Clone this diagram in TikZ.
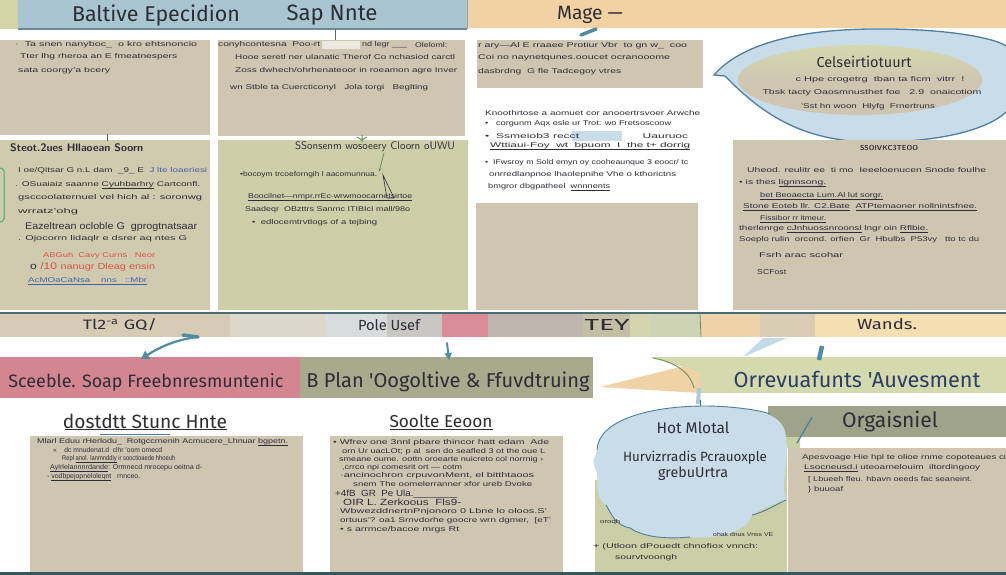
\documentclass[tikz,border=0pt]{standalone}
\usepackage{fontspec}
\usepackage{graphicx}
\setmainfont{Liberation Sans}
\newfontfamily\headfont{Fira Sans}
\usetikzlibrary{arrows.meta}
\definecolor{ink}{HTML}{2E2D36}
\definecolor{tanbox}{HTML}{CFC6B2}
\definecolor{tanD}{HTML}{D0CBAF}
\definecolor{greenE}{HTML}{CDCFA8}
\definecolor{blueband}{HTML}{A8C5D1}
\definecolor{orangeband}{HTML}{F1D2A3}
\definecolor{leftgreen}{HTML}{D1D5A7}
\definecolor{pinkban}{HTML}{D3868F}
\definecolor{sage}{HTML}{A8AA8E}
\definecolor{darksage}{HTML}{9EA38A}
\definecolor{lightgreen}{HTML}{D5D9AE}
\definecolor{peach}{HTML}{EFD3A6}
\definecolor{cloudblue}{HTML}{C9DCEA}
\definecolor{cloudline}{HTML}{4E7E9C}
\definecolor{tealc}{HTML}{4F8CA2}
\definecolor{bandline}{HTML}{4B6C76}
\definecolor{bottomline}{HTML}{37575A}
\definecolor{navy}{HTML}{2C3E66}
\definecolor{redtxt}{HTML}{D9534A}
\definecolor{bluetxt}{HTML}{4660A8}
\definecolor{stemgreen}{HTML}{6F8E5C}
\definecolor{segA}{HTML}{D6CCB5}
\definecolor{segB}{HTML}{DCD7C9}
\definecolor{segC}{HTML}{D8DCDD}
\definecolor{segD}{HTML}{C8C7C4}
\definecolor{segE}{HTML}{D98D98}
\definecolor{segF}{HTML}{BDB5AE}
\definecolor{segG}{HTML}{C2BFA4}
\definecolor{segH}{HTML}{D3D5AC}
\definecolor{segI}{HTML}{CED3B5}
\definecolor{segJ}{HTML}{EED3A8}
\definecolor{segK}{HTML}{D9CDB5}
\definecolor{segL}{HTML}{F3DFB2}
\definecolor{greenbox}{HTML}{CBCFA6}
\definecolor{pointer}{HTML}{C4DAE6}
\newcommand\bodyln[5]{\node[bodytxt] (#1) at (#2,#3) {\resizebox{#4pt}{5pt}{#5}};}
\begin{document}
\begin{tikzpicture}[x=1pt,y=-1pt,
  box/.style={draw=none,inner sep=0,outer sep=0,anchor=north west},
  bodytxt/.style={anchor=west,inner sep=0,text=ink},
  head/.style={inner sep=0,text=ink,font=\headfont},
  conn/.style={draw=tealc,line width=2pt,line cap=round},
  thinline/.style={draw=bandline,line width=0.8pt}]
\useasboundingbox (0,0) rectangle (1006,575);
\fill[white] (0,0) rectangle (1006,575);

% ---------- top band
\node[box,fill=leftgreen,minimum width=18,minimum height=29] (tbL) at (0,0) {};
\node[box,fill=blueband,minimum width=449,minimum height=29] (tbM) at (18,0) {};
\node[box,fill=orangeband,minimum width=539,minimum height=28] (tbR) at (467,0) {};
\draw[bandline!80,line width=1.5pt] (tbM.south west) -- (tbM.south east);
\draw[bandline!60,line width=1pt] (tbM.north east) -- (tbM.south east);
\node[head] (t1) at (156,15) {\resizebox{168pt}{!}{Baltive Epecidion}};
\node[head] (t2) at (332,15) {\resizebox{91pt}{!}{Sap Nnte}};
\node[head] (t3) at (590,15) {\resizebox{66pt}{!}{Mage —}};

% ---------- row 1
\node[box,fill=tanbox,minimum width=210,minimum height=95] (boxA) at (0,40) {};
\node[box,fill=tanbox,minimum width=247,minimum height=96] (boxB) at (218,40) {};
\node[box,fill=tanbox,minimum width=226,minimum height=48] (boxC) at (477,40) {};

\bodyln{a1}{15}{45}{182}{·\ \ Ta snen nanyboc\_\ \ o kro ehtsnoncio}
\bodyln{a2}{20}{57}{157}{Tter lhg rheroa an E fmeatnespers}
\bodyln{a3}{18}{71}{92}{sata coorgy'a bcery}

\bodyln{b1}{218}{45}{102}{conyhcontesna\ \ Poo-rt}
\fill[white!60!tanbox] (322,41) rectangle (360,49);
\bodyln{b1b}{362}{45}{45}{nd legr \_\_\_}
\bodyln{b1c}{415}{45}{32}{Oleloml:}
\bodyln{b2}{235}{57}{220}{Hooe seretl ner ulanatic Therof Co nchasiod carctl}
\bodyln{b3}{235}{71}{222}{Zoss dwhech/ohrhenateoor in roeamon agre Inver}
\bodyln{b4}{230}{88}{198}{wn Stble ta Cuercticonyl\ \ \ Jola torgi\ \ \ Beglting}

\bodyln{c1}{478}{46}{209}{r ary—Al E rraaee Protiur Vbr\ \ to gn w\_\ \ coo}
\bodyln{c2}{478}{58}{192}{Coi no naynetqunes.ooucet ocranooome}
\bodyln{c3}{478}{72}{143}{dasbrdng\ \ G fle Tadcegoy vtres}

% ---------- speech bubble
\fill[cloudblue] (714,75) .. controls (740,45) and (795,30) .. (870,29)
  .. controls (945,28) and (995,38) .. (1006,46) -- (1006,112)
  .. controls (985,132) and (930,143) .. (870,142)
  .. controls (800,141) and (760,112) .. (725,76) -- cycle;
\draw[cloudline,line width=1.3pt] (725,76) -- (714,75) .. controls (740,45) and (795,30) .. (870,29)
  .. controls (945,28) and (995,38) .. (1006,46);
\draw[cloudline,line width=1.3pt] (1006,112) .. controls (985,132) and (930,143) .. (870,142)
  .. controls (800,141) and (760,112) .. (725,76);
\shade[top color=lightgreen,bottom color=tanbox,middle color=tanbox] (860,80) ellipse [x radius=122,y radius=35];
\node[head] (bt) at (864,62) {\resizebox{95pt}{!}{Celseirtiotuurt}};
\node[bodytxt,anchor=center] (bl1) at (880,80) {\resizebox{169pt}{5pt}{c Hpe crogetrg\ \ tban ta ficm\ \ vitrr\ \ !}};
\node[bodytxt,anchor=center] (bl2) at (872,93) {\resizebox{219pt}{5pt}{Tbsk tacty Oaosmnusthet foe\ \ \ 2.9\ \ onaicotiom}};
\node[bodytxt,anchor=center] (bl3) at (868,107) {\resizebox{134pt}{5pt}{'Sst hn woon\ \ Hlyfg\ \ Frnertruns}};

% ---------- row 2
\node[box,fill=tanD,minimum width=210,minimum height=170] (boxD) at (0,140) {};
\node[box,fill=greenE,minimum width=250,minimum height=170] (boxE) at (218,140) {};
\node[box,fill=tanbox,minimum width=222,minimum height=107] (boxF) at (476,203) {};
\node[box,fill=tanbox,minimum width=273,minimum height=170] (boxG) at (733,140) {};
\draw[tealc!70!green,line width=1pt,rounded corners=2pt] (0,168) -- (4,169) -- (4,221) -- (0,222);

\node[head,anchor=west] (dh) at (10,148) {\resizebox{133pt}{!}{\bfseries\sffamily Steot.2ues Hllaoean Soorn}};
\bodyln{d1}{18}{171}{189}{I oe/Qitsar G n.L dam\ \ \_9\_ E\ \ \textcolor{bluetxt}{J lte loaeriesi}}
\bodyln{d2}{15}{185}{185}{. OSuaiaiz saanne \underline{Cyuhbarhry} Cartconfl.}
\bodyln{d3}{18}{198}{184}{gsccoolaternuel vel hich al : soronwg}
\bodyln{d4}{18}{212}{60}{wrratz'ohg}
\node[bodytxt] (d5) at (25,227) {\resizebox{172pt}{7pt}{Eazeltrean ocloble G\ \ gprogtnatsaar}};
\bodyln{d6}{18}{239}{169}{. Ojocorrn lidaqlr e dsrer aq ntes G}
\bodyln{d7}{43}{256}{112}{\textcolor{redtxt}{ABGuh\ \ Cavy Curns\ \ \ Neor}}
\node[bodytxt] (d8) at (30,267) {\resizebox{125pt}{7pt}{o \textcolor{redtxt}{/10} \textcolor{redtxt}{\small nanugr Dleag ensin}}};
\bodyln{d9}{28}{281}{119}{\textcolor{bluetxt}{\underline{AcMOaCaNsa\ \ \ \ nns\ \ \ ::Mbr}}}

\node[head,anchor=center] (eh) at (375,147) {\resizebox{160pt}{!}{\sffamily SSonsenm wosoeery Cloorn oUWU}};
\bodyln{e1}{240}{175}{137}{•bocoym trcoeforngih l aacomunnua.}
\bodyln{e2}{248}{197}{164}{\underline{Boocilnet—nmpr.rrEc-wrwmoocarnetsirtoe}}
\bodyln{e3}{245}{210}{165}{Saadeqr\ \ OBzttrs Sanrnc ITIBIcI mall/98o}
\bodyln{e4}{252}{223}{125}{•\ \ edlocemtrvtlogs of a tejbing}

\bodyln{f0}{485}{113}{215}{Knoothrtose a aomuet cor anooertrsvoer Arwche}
\bodyln{f1}{485}{124}{186}{•\ \ \ corgunm Aqx esle ur Trot: wo Fretsoscoow}
\fill[cloudblue] (572,131) rectangle (622,141);
\bodyln{f2}{485}{136}{203}{•\ \ Ssmeiob3 recct\ \ \ \ \ \ \ \ \ \ \ \ \ \ \ \ \ \ \ Uauruoc}
\bodyln{f3}{490}{146}{200}{\underline{Wttiaui-Foy\ \ wt\ \ bpuom\ \ I\ \ the t+ dorrig}}
\bodyln{f4}{485}{163}{203}{•\ \ IFwsroy m Sold emyn oy cooheaunque 3 eoocr/ tc}
\bodyln{f5}{489}{175}{187}{onrredlanpnoe lhaolepnihe Vhe o kthorictns}
\bodyln{f6}{488}{187}{122}{bmgror dbgpatheel\ \ \underline{wnnnents}}

\node[head,anchor=center] (gh) at (889,148) {\resizebox{58pt}{!}{\bfseries\sffamily SSOIVKC3TEOO}};
\bodyln{g1}{747}{170}{239}{Uheod. reulitr ee\ \ ti mo\ \ Ieeeloenucen Snode foulhe}
\bodyln{g2}{739}{183}{87}{• is thes \underline{lignnsong.}}
\bodyln{g3}{760}{196}{123}{\underline{bet Beoaecta Lum.Al lut sorgr.}}
\bodyln{g4}{743}{207}{234}{\underline{Stone Eoteb llr. C2.Bate}\ \ \underline{ATPtemaoner nollnintsfnee.}}
\bodyln{g5}{760}{219}{66}{\underline{Fissibor rr itmeur.}}
\bodyln{g6}{739}{229}{189}{therlenrge \underline{cJnhuossnroonsl} lngr oin \underline{Rflbie.}}
\bodyln{g7}{739}{240}{240}{Soeplo rulin\ \ orcond. orfien\ \ Gr\ \ Hbulbs\ \ P53vy\ \ \ tto tc du}
\bodyln{g8}{759}{255}{84}{Fsrh arac scohar}
\bodyln{g9}{757}{272}{29}{SCFost}

% small stems between rows
\coordinate (sA) at (107,134); \coordinate (sA2) at (107,141);
\draw[thinline] (sA) -- (sA2);
\coordinate (sB) at (335,29); \coordinate (sB2) at (335,40);
\draw[thinline] (sB) -- (sB2);
\coordinate (sC) at (362,135); \coordinate (sC2) at (362,142);
\draw[stemgreen,line width=1pt] (sC) -- (sC2) (357,137) -- (362,140) -- (367,137);
\coordinate (mg1) at (596,29); \coordinate (mg2) at (581,35);
\draw[tealc,line width=3.5pt,line cap=round] (mg1) -- (mg2);
\coordinate (ey1) at (384,153); \coordinate (ey2) at (379,172);
\draw[stemgreen,line width=0.8pt,-{Stealth[length=4pt]}] (ey1) -- (ey2);
\draw[ink,line width=0.6pt] (383,175) -- (394,198) -- (387,198) -- cycle;

% ---------- band 2
\fill[segA] (0,313) rectangle (230,337);
\fill[segB] (230,313) rectangle (325,337);
\fill[segC] (325,313) rectangle (387,337);
\fill[segD] (387,313) rectangle (442,337);
\fill[segE] (442,313) rectangle (488,337);
\fill[segF] (488,313) rectangle (583,337);
\fill[segG] (583,313) rectangle (630,337);
\fill[segH] (630,313) rectangle (650,337);
\fill[segI] (650,313) rectangle (700,337);
\fill[segJ] (700,313) rectangle (760,337);
\fill[segK] (760,313) rectangle (815,337);
\fill[segL] (815,313) rectangle (1006,337);
\draw[stemgreen,line width=0.8pt] (700,314) -- (701,337);
\draw[bandline,line width=1.6pt] (0,313) -- (1006,313);
\node[head] (l1) at (120,325) {\resizebox{74pt}{11pt}{Tl2\textsuperscript{-a} GQ/}};
\node[head] (l2) at (389,325) {\resizebox{62pt}{11pt}{Pole Usef}};
\node[head] (l3) at (607,325) {\resizebox{45pt}{11pt}{TEY}};
\node[head] (l4) at (887,324) {\resizebox{60pt}{11pt}{Wands.}};

% ---------- banners
\node[box,fill=pinkban,minimum width=300,minimum height=41] (pinkB) at (0,357) {};
\node[box,fill=sage,minimum width=293,minimum height=41] (sageB) at (300,357) {};
\node[head] (pt) at (146,382) {\resizebox{275pt}{!}{Sceeble. Soap Freebnresmuntenic}};
\node[head] (st) at (448,382) {\resizebox{283pt}{!}{B Plan 'Oogoltive \& Ffuvdtruing}};

\fill[peach] (600,387) -- (700,362) -- (700,393) -- cycle;
\fill[lightgreen] (650,357) -- (1006,357) -- (1006,393) -- (700,393) -- (700,372) -- cycle;
\node[head,text=navy] (ot) at (857,379) {\resizebox{247pt}{!}{Orrevuafunts 'Auvesment}};
\fill[pointer] (743,357) -- (763,338) -- (787,338) -- cycle;

\coordinate (ar1s) at (197,337);
\coordinate (ar1e) at (141,359);
\draw[conn,line width=2.2pt,-{Triangle[length=8pt,width=9pt]}] (ar1s) .. controls (175,340) and (160,347) .. (ar1e);
\draw[tealc,line width=3.5pt,line cap=round] (183,335) -- (198,337);
\coordinate (ar2s) at (447,343);
\coordinate (ar2e) at (449,360);
\draw[conn,-{Triangle[length=7pt,width=7pt]}] (ar2s) -- (ar2e);
\coordinate (tb1) at (822,346); \coordinate (tb2) at (819,360);
\draw[tealc,line width=4.5pt] (tb1) -- (tb2);

% green stem to cloud
\coordinate (gs1) at (653,358);
\coordinate (gs2) at (694,388);
\draw[stemgreen,line width=0.9pt] (gs1) .. controls (675,362) and (690,372) .. (gs2);
\draw[pointer!80!tealc,line width=4pt] (699,388) -- (698,404);
\draw[bandline,line width=0.6pt] (700,400) -- (700,418);

% ---------- lower headings
\node[head] (h1) at (145,421) {\resizebox{164pt}{!}{dostdtt Stunc Hnte}};
\draw[ink,line width=0.7pt] (65,429) -- (227,429);
\draw[cloudline,line width=0.7pt] (100,434) -- (170,434);
\node[head] (h2) at (441,421) {\resizebox{103pt}{!}{Soolte Eeoon}};
\draw[ink,line width=0.7pt] (390,429) -- (493,429);

% ---------- lower boxes
\node[box,fill=tanbox,minimum width=273,minimum height=137] (box1) at (30,436) {};
\node[box,fill=tanbox,minimum width=233,minimum height=137] (box2) at (330,436) {};

\bodyln{k1}{37}{442}{251}{Mlarl Eduu rHerlodu\_\ \ Rotgccrnenih Acmucere\_Lhnuar \underline{bgpetn.}}
\bodyln{k2}{53}{450}{109}{«\ \ \ \ dc mnudenat.d\ \ clhr 'oom omecd}
\bodyln{k3}{62}{459}{113}{Repl \underline{anol. lanmnddiy} ir sooctioaede hhoeuh}
\bodyln{k4}{50}{468}{152}{\underline{Aylrlelannnrdande}: Ormnecd mrocepu oeitna d-}
\bodyln{k5}{47}{477}{93}{- \underline{vodbpejopneloleqnt}\ \ \ rnnceo.}

\bodyln{m1}{333}{443}{216}{• Wfrev one 3nnl pbare thincor hatt edam\ \ Ade}
\bodyln{m2}{342}{452}{203}{orn Ur uacLOt; p al\ \ sen do seafled 3 ot the oue L}
\bodyln{m3}{339}{460}{204}{smeane oume. oottn oroearte nuicreto col norrnig ›}
\bodyln{m4}{342}{468}{120}{,crrco npi comesrit ort — cotm}
\bodyln{m5}{340}{476}{194}{·ancinochron crpuvonMent, el bitthtaoos}
\bodyln{m6}{353}{484}{179}{snem The oomelerranner xfor ureb Dvoke}
\node[bodytxt] (m7) at (335,494) {\resizebox{122pt}{6.5pt}{+4fB\ \ GR\ \ Pe Ula.\_\_\_\_\_\_\_\_}};
\node[bodytxt] (m8) at (343,502) {\resizebox{118pt}{6.5pt}{OIR L. Zerkoous\ \ Fls9-}};
\bodyln{m9}{340}{512}{207}{WbwezddnertnPnjonoro 0 Lbne lo oloos.S'}
\bodyln{m10}{340}{521}{211}{ortuus'? oa1 Srnvdorhe goocre wrn dgmer,\ \ [eT'}
\bodyln{m11}{340}{530}{119}{• s arrmce/bacoe mrgs Rt}

% ---------- right lower area
\fill[greenbox] (595,480) rectangle (787,573);
\fill[greenbox] (775,412) -- (800,437) -- (800,448) -- (787,448) -- (787,480) -- (775,480) -- cycle;
\node[box,fill=tanbox,minimum width=218,minimum height=125] (boxR) at (788,448) {};
\node[box,fill=darksage,minimum width=238,minimum height=31] (orgB) at (768,406) {};
\node[head] (orgT) at (890,422) {\resizebox{96pt}{!}{Orgaisniel}};

\fill[cloudblue] (597,450) .. controls (598,420) and (650,406) .. (705,406)
 .. controls (760,406) and (787,415) .. (786,440)
 .. controls (790,460) and (780,480) .. (786,500)
 .. controls (770,505) and (760,510) .. (752,515)
 .. controls (748,530) and (720,540) .. (690,537)
 .. controls (660,540) and (640,535) .. (630,528)
 .. controls (615,525) and (612,515) .. (606,505)
 .. controls (592,495) and (600,480) .. (596,470)
 .. controls (590,460) and (597,455) .. (597,450) -- cycle;
\draw[cloudline,line width=0.9pt] (597,450) .. controls (598,420) and (650,406) .. (705,406)
 .. controls (730,406) and (760,410) .. (770,414);
\draw[cloudline,line width=0.9pt] (786,500) .. controls (775,505) and (765,512) .. (752,515);
\draw[cloudline,line width=0.9pt] (690,537) .. controls (660,540) and (640,535) .. (630,528)
 .. controls (615,525) and (612,515) .. (606,505);
\node[head] (ct1) at (693,428) {\resizebox{73pt}{!}{Hot Mlotal}};
\node[head] (ct2) at (695,458) {\resizebox{144pt}{!}{Hurvizrradis Pcrauoxple}};
\node[head] (ct3) at (693,474) {\resizebox{70pt}{!}{grebuUrtra}};

\coordinate (bl1s) at (812,417);
\coordinate (bl1e) at (797,443);
\draw[cloudline,line width=1.2pt] (bl1s) -- (bl1e);

\bodyln{r1}{802}{458}{204}{Apesvoage Hie hpl te olioe rnme copoteaues ci}
\bodyln{r2}{804}{468}{176}{\underline{Lsocneusd.i} uteoarnelouim\ \ iltordingooy}
\bodyln{r3}{808}{480}{164}{[ Lbueeh fleu. hbavn oeeds fac seaneint.}
\bodyln{r4}{808}{490}{35}{\} buuoaf}

\node[bodytxt] (q0) at (600,522) {\resizebox{20pt}{4pt}{oroqh}};
\node[bodytxt] (q1) at (713,535) {\resizebox{60pt}{4pt}{ohak dnus Vnss VE}};
\bodyln{q2}{593}{547}{165}{+ (Utloon dPouedt chnofiox vnnch:}
\bodyln{q3}{615}{558}{62}{sourvtvoongh}

% bottom rule
\fill[bottomline] (0,572) rectangle (1006,575);
\end{tikzpicture}
\end{document}
